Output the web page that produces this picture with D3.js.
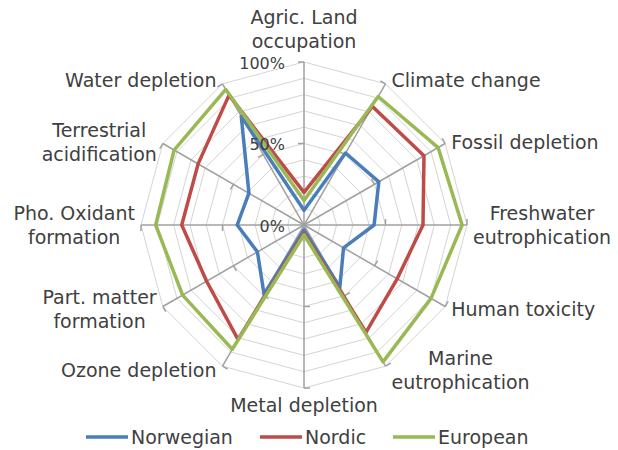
<!DOCTYPE html>
<html>
<head>
<meta charset="utf-8">
<script src="https://d3js.org/d3.v7.min.js"></script>
<style>
  body { margin: 0; background: white; }
  text { font-family: "DejaVu Sans", sans-serif; fill: #404040; }
</style>
</head>
<body>
<svg id="plot"></svg>
<script>
// Define data
const categories = [
  "Agric. Land\noccupation", "Climate change", "Fossil depletion",
  "Freshwater\neutrophication", "Human toxicity", "Marine\neutrophication",
  "Metal depletion", "Ozone depletion", "Part. matter\nformation",
  "Pho. Oxidant\nformation", "Terrestrial\nacidification", "Water depletion"
];
const norwegian = [9, 51, 53, 43, 28, 44, 3, 49, 33, 41, 39, 77];
const nordic    = [20, 84, 85, 73, 66, 76, 5, 81, 69, 75, 75, 92];
const european  = [15, 91, 95, 97, 90, 97, 6, 88, 86, 91, 92, 96];
const seriesNames = ["Norwegian", "Nordic", "European"];
const tickValues = [0, 50, 100];
const tickLabels = ["0%", "50%", "100%"];

const series = [norwegian, nordic, european].map((v, i) => ({ name: seriesNames[i], values: v }));
const colors = ["#4a7ebb", "#be4b48", "#98b954"];

// Dimensions
let width = 618, height = 450;
let cx = 304, cy = 225, radius = 163;

let svg = d3.select('#plot')
  .attr('width', width)
  .attr('height', height)
  .style('background', 'white');

// Scales
let rScale = d3.scaleLinear().domain([0, 100]).range([0, radius]);
let angle = d3.scalePoint().domain(d3.range(categories.length + 1)).range([0, 2 * Math.PI]);
const pt = (i, v) => {
  let a = angle(i % categories.length);
  return [cx + rScale(v) * Math.sin(a), cy - rScale(v) * Math.cos(a)];
};

// Grid rings every 10%
let rings = d3.range(10, 101, 10);
svg.append('g')
  .selectAll('path')
  .data(rings)
  .enter()
  .append('path')
  .attr('d', r => d3.line()(categories.map((c, i) => pt(i, r))) + 'Z')
  .attr('fill', 'none')
  .attr('stroke', '#d4d4d4')
  .attr('stroke-width', 1);

// Spokes
svg.append('g')
  .selectAll('line')
  .data(categories)
  .enter()
  .append('line')
  .attr('x1', cx).attr('y1', cy)
  .attr('x2', (d, i) => pt(i, 100)[0])
  .attr('y2', (d, i) => pt(i, 100)[1])
  .attr('stroke', '#a0a0a0')
  .attr('stroke-width', 1.5);

// Tick marks on the spokes at 50% and 100%
categories.forEach((c, i) => {
  let a = angle(i);
  [50, 100].forEach(v => {
    let p = pt(i, v);
    svg.append('line')
      .attr('x1', p[0]).attr('y1', p[1])
      .attr('x2', p[0] - 6 * Math.cos(a))
      .attr('y2', p[1] - 6 * Math.sin(a))
      .attr('stroke', '#a0a0a0')
      .attr('stroke-width', 1.5);
  });
});

// Series lines
svg.append('g')
  .selectAll('path')
  .data(series)
  .enter()
  .append('path')
  .attr('d', s => d3.line()(s.values.map((v, i) => pt(i, v))) + 'Z')
  .attr('fill', 'none')
  .attr('stroke', (d, i) => colors[i])
  .attr('stroke-width', 3.5)
  .attr('stroke-linejoin', 'round');

// Value axis labels
svg.append('g')
  .selectAll('text')
  .data(tickValues)
  .enter()
  .append('text')
  .attr('x', cx - 19)
  .attr('y', v => cy - rScale(v) + 1)
  .attr('dy', '0.35em')
  .attr('text-anchor', 'end')
  .style('font-size', '16px')
  .text((v, i) => tickLabels[i]);

// Category labels
categories.forEach((c, i) => {
  let a = angle(i), s = Math.sin(a), co = Math.cos(a);
  let v = pt(i, 100);
  let t = svg.append('text')
    .attr('text-anchor', 'middle')
    .style('font-size', '19px');
  c.split('\n').forEach((line, j) => {
    t.append('tspan').attr('x', 0).attr('dy', j === 0 ? 0 : 24).text(line);
  });
  let b = t.node().getBBox();
  let x, y;
  if (s > 0.1) x = v[0] + 6 - b.x;
  else if (s < -0.1) x = v[0] - 6 - (b.x + b.width);
  else x = v[0] - (b.x + b.width / 2);
  if (co > 0.9) y = v[1] - 10 - (b.y + b.height);
  else if (co < -0.9) y = v[1] + 6 - b.y;
  else y = v[1] - 4 * co - (b.y + b.height / 2);
  t.attr('transform', `translate(${x}, ${y})`);
});

// Legend
let legendX = [86, 260, 393];
let legend = svg.append('g')
  .selectAll('g')
  .data(series)
  .enter()
  .append('g')
  .attr('transform', (d, i) => `translate(${legendX[i]}, 437)`);

legend.append('line')
  .attr('x1', 0).attr('x2', 42)
  .attr('stroke', (d, i) => colors[i])
  .attr('stroke-width', 3.5);

legend.append('text')
  .attr('x', 45)
  .attr('dy', '0.35em')
  .style('font-size', '19px')
  .text(d => d.name);
</script>
</body>
</html>
